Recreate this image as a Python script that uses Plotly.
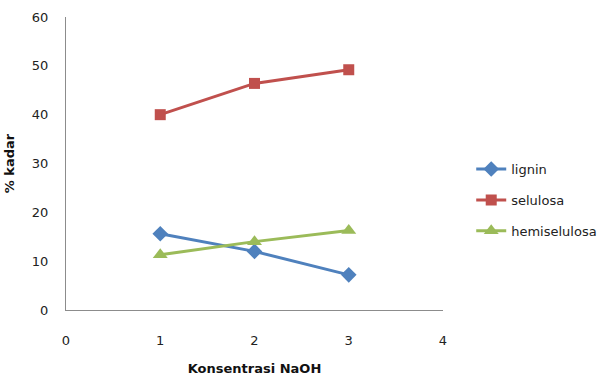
import plotly.graph_objects as go

# Konsentrasi NaOH (x) and % kadar for each component
konsentrasi = [1, 2, 3]
lignin = [15.6, 12.0, 7.2]
selulosa = [40.0, 46.4, 49.2]
hemiselulosa = [11.3, 14.0, 16.3]

series = [
    ("lignin", lignin, "#4F81BD", "diamond", 12),
    ("selulosa", selulosa, "#C0504D", "square", 11),
    ("hemiselulosa", hemiselulosa, "#9BBB59", "triangle-up", 13),
]

font = dict(family="DejaVu Sans", size=13, color="#222222")

fig = go.Figure()
for name, vals, color, symbol, size in series:
    fig.add_trace(go.Scatter(
        x=konsentrasi, y=vals, name=name, legendgroup=name,
        mode="lines+markers",
        line=dict(color=color, width=3),
        marker=dict(symbol=symbol, size=size, color=color),
    ))

fig.update_layout(
    width=598, height=376,
    margin=dict(l=66, r=155, t=17, b=66, autoexpand=False),
    paper_bgcolor="white", plot_bgcolor="white",
    font=font,
    showlegend=True,
    legend=dict(
        xref="container", yref="container",
        x=0.788, xanchor="left", y=0.468, yanchor="middle",
        traceorder="grouped", tracegroupgap=11,
        font=dict(family="DejaVu Sans", size=13, color="#222222"),
        bgcolor="rgba(0,0,0,0)",
    ),
    xaxis=dict(
        range=[0, 4], tickvals=[0, 1, 2, 3, 4], showgrid=False, zeroline=False,
        showline=True, linecolor="#8C8C8C", linewidth=1, ticks="",
        ticklabelstandoff=18, automargin=False,
        title=dict(text="<b>Konsentrasi NaOH</b>", standoff=22,
                   font=dict(family="DejaVu Sans", size=13, color="#111111")),
    ),
    yaxis=dict(
        range=[0, 60], tickvals=[0, 10, 20, 30, 40, 50, 60], showgrid=False,
        zeroline=False, showline=True, linecolor="#8C8C8C", linewidth=1,
        ticks="", ticklabelstandoff=14, automargin=False,
        title=dict(text="<b>% kadar</b>", standoff=14,
                   font=dict(family="DejaVu Sans", size=13, color="#111111")),
    ),
)

fig.write_html("out.html")
